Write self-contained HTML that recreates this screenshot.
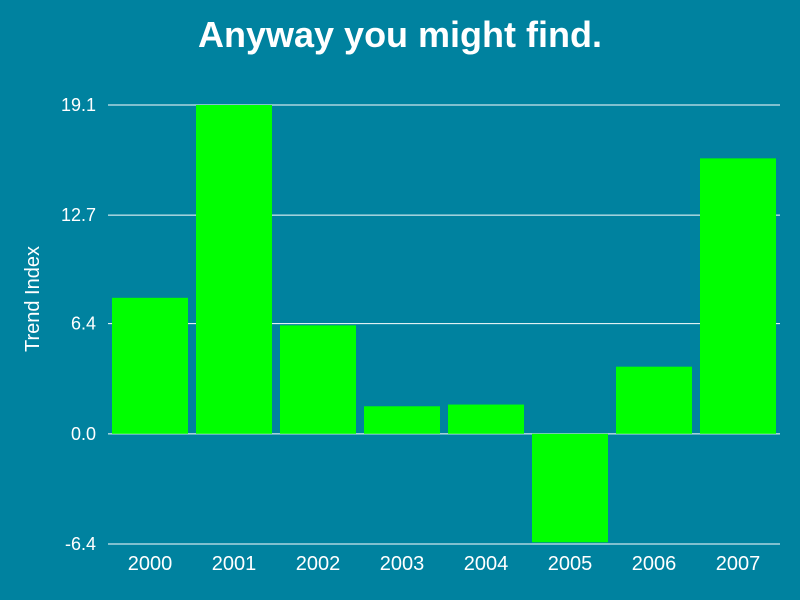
<!DOCTYPE html>
<html><head><meta charset="utf-8"><style>
html,body{margin:0;padding:0;background:#00829f;}
svg{display:block;font-family:"Liberation Sans",sans-serif;}
</style></head><body>
<svg id="chart" width="800" height="600" viewBox="0 0 800 600">
<rect width="800" height="600" fill="#00829f"/>
<text x="400" y="47" text-anchor="middle" font-size="36" font-weight="bold" fill="#fff">Anyway you might find.</text>
<text transform="translate(39,299) rotate(-90)" text-anchor="middle" font-size="20" fill="#fff">Trend Index</text>
<g id="grid"></g><g id="bars"></g><g id="labels"></g>
</svg>
<script>
const categories = ["2000","2001","2002","2003","2004","2005","2006","2007"];
const values = [7.9, 19.1, 6.3, 1.6, 1.7, -6.3, 3.9, 16.0];
const tickValues = [-6.4, 0.0, 6.4, 12.7, 19.1];
const tickLabels = ["-6.4","0.0","6.4","12.7","19.1"];

const NS = "http://www.w3.org/2000/svg";
const x0 = 108, x1 = 780, yTop = 105, yBot = 544;
const vMin = -6.4, vMax = 19.1;
function y(v){ return yBot - (v - vMin) / (vMax - vMin) * (yBot - yTop); }
const band = (x1 - x0) / categories.length;
function xb(i){ return x0 + i * band; }

const grid = document.getElementById("grid");
tickValues.forEach((t, i) => {
  const l = document.createElementNS(NS, "line");
  l.setAttribute("x1", x0); l.setAttribute("x2", x1);
  l.setAttribute("y1", y(t)); l.setAttribute("y2", y(t));
  l.setAttribute("stroke", "#fff"); l.setAttribute("stroke-width", "1");
  
  
  grid.appendChild(l);
  const tx = document.createElementNS(NS, "text");
  tx.setAttribute("x", 96); tx.setAttribute("y", y(t) + 6);
  tx.setAttribute("text-anchor", "end"); tx.setAttribute("font-size", "18"); tx.setAttribute("fill", "#fff");
  tx.textContent = tickLabels[i];
  
  
  grid.appendChild(tx);
});

const bars = document.getElementById("bars"), labels = document.getElementById("labels");
categories.forEach((c, i) => {
  const v = values[i];
  const r = document.createElementNS(NS, "rect");
  r.setAttribute("x", xb(i) + 4); r.setAttribute("width", band - 8);
  r.setAttribute("y", Math.min(y(v), y(0))); r.setAttribute("height", Math.abs(y(v) - y(0)));
  r.setAttribute("fill", "#00ff00");
  
  
  bars.appendChild(r);
  const t = document.createElementNS(NS, "text");
  t.setAttribute("x", xb(i) + band / 2); t.setAttribute("y", 570);
  t.setAttribute("text-anchor", "middle"); t.setAttribute("font-size", "20"); t.setAttribute("fill", "#fff");
  t.textContent = c;
  
  
  labels.appendChild(t);
});
</script>
</body></html>
